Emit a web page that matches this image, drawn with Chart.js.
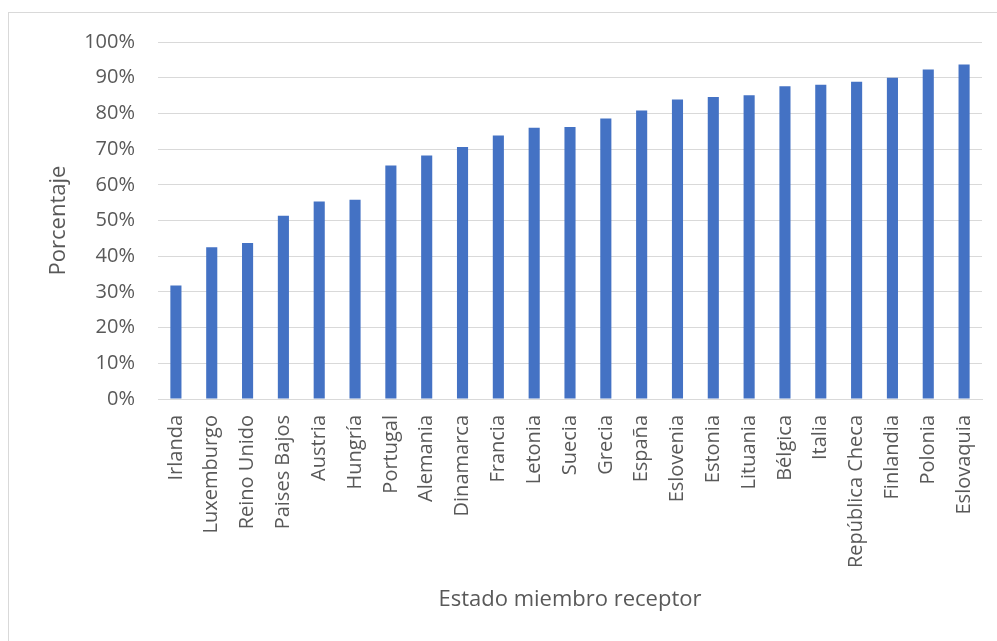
<!DOCTYPE html>
<html>
<head>
<meta charset="utf-8">
<script src="https://cdn.jsdelivr.net/npm/chart.js@4/dist/chart.umd.min.js"></script>
<style>
    html, body { margin: 0; padding: 0; background: #fff; overflow: hidden; }
    #wrap { position: relative; width: 997px; height: 641px; }
    #frame {
        position: absolute; left: 8px; top: 12px;
        width: 1100px; height: 700px;
        border: 1px solid #d9d9d9;
    }
    #chart { position: absolute; left: 0; top: 0; }
</style>
</head>
<body>
<div id="wrap">
    <div id="frame"></div>
    <canvas id="chart" width="997" height="641"></canvas>
</div>
<script>
// Estados miembro, ordenados de menor a mayor
const categories = [
    'Irlanda', 'Luxemburgo', 'Reino Unido', 'Paises Bajos', 'Austria', 'Hungría',
    'Portugal', 'Alemania', 'Dinamarca', 'Francia', 'Letonia', 'Suecia', 'Grecia',
    'España', 'Eslovenia', 'Estonia', 'Lituania', 'Bélgica', 'Italia',
    'República Checa', 'Finlandia', 'Polonia', 'Eslovaquia'
];

// porcentaje (0-100)
const values = [
    31.8, 42.5, 43.7, 51.3, 55.3, 55.8, 65.4, 68.2, 70.6, 73.8, 76.0, 76.2,
    78.6, 80.8, 83.9, 84.6, 85.1, 87.6, 88.0, 88.9, 90.0, 92.3, 93.7
];

const yTicks = [0, 10, 20, 30, 40, 50, 60, 70, 80, 90, 100];

const textColor = '#595959';
const gridColor = '#d9d9d9';
const fontFamily = '"Open Sans", sans-serif';

new Chart(document.getElementById('chart'), {
    type: 'bar',
    data: {
        labels: categories,
        datasets: [{
            data: values,
            backgroundColor: '#4472c4',
            borderWidth: 0,
            barPercentage: 0.31,
            categoryPercentage: 1.0
        }]
    },
    options: {
        responsive: false,
        animation: false,
        layout: {
            padding: { left: 8, top: 42, right: 15, bottom: 0 }
        },
        plugins: {
            legend: { display: false },
            tooltip: { enabled: false }
        },
        scales: {
            x: {
                grid: { display: false, drawTicks: false },
                border: { display: true, color: gridColor, width: 1 },
                ticks: {
                    color: textColor,
                    font: { family: fontFamily, size: 20 },
                    minRotation: 90,
                    maxRotation: 90,
                    autoSkip: false,
                    padding: 16
                },
                title: {
                    display: true,
                    text: 'Estado miembro receptor',
                    color: textColor,
                    font: { family: fontFamily, size: 22 },
                    padding: { top: 0, bottom: 28 }
                },
                afterFit: (scale) => {
                    scale.height = 242;
                    scale.paddingLeft = 0;
                    scale.paddingRight = 0;
                }
            },
            y: {
                min: 0,
                max: 100,
                afterBuildTicks: (scale) => {
                    scale.ticks = yTicks.map(v => ({ value: v }));
                },
                grid: { color: gridColor, lineWidth: 1, drawTicks: false },
                border: { display: false },
                ticks: {
                    color: textColor,
                    font: { family: fontFamily, size: 20 },
                    padding: 23,
                    callback: (v) => v + '%'
                },
                title: {
                    display: true,
                    text: 'Porcentaje',
                    color: textColor,
                    font: { family: fontFamily, size: 22 },
                    padding: { top: 38, bottom: 0 }
                },
                afterFit: (scale) => { scale.width = 150; }
            }
        }
    }
});
</script>
</body>
</html>
